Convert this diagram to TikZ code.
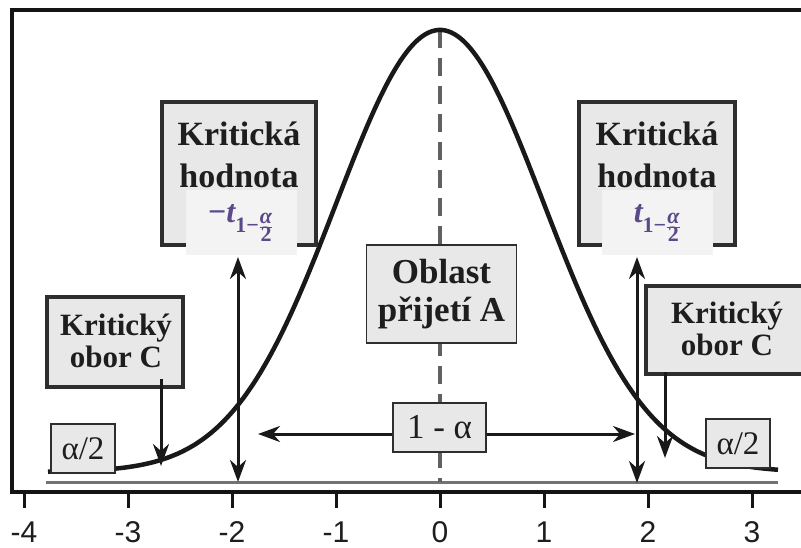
\documentclass[tikz,border=0pt]{standalone}
\usepackage{fontspec}
\setmainfont{Liberation Serif}
\setsansfont{Liberation Sans}
\usetikzlibrary{arrows.meta}
\definecolor{boxfill}{HTML}{E8E8E8}
\definecolor{labfill}{HTML}{F3F3F3}
\definecolor{mathpurple}{HTML}{5B4A8A}
\definecolor{framegray}{HTML}{2E2E2E}
\definecolor{textdark}{HTML}{1E1E1E}
\newcommand{\subfs}{\fontsize{22}{22}\selectfont\bfseries}
\newcommand{\critlab}[1]{$\hbox{\fontsize{32}{32}\selectfont\bfseries #1\itshape t}_{\hbox{\subfs 1−}{\hbox{\subfs\itshape α}\over\hbox{\subfs 2}}}$}
\begin{document}
\begin{tikzpicture}[x=1pt,y=-1pt,
  axisline/.style={line width=3.5pt, black!92, line join=miter},
  tickmark/.style={line width=3pt, black!92},
  ticklabel/.style={font=\sffamily\fontsize{30}{30}\selectfont, anchor=base, inner sep=0pt, text=textdark},
  density/.style={line width=4.5pt, black!90, line join=round},
  zeroline/.style={line width=3pt, black!55},
  midline/.style={line width=3.5pt, black!62, dash pattern=on 18pt off 10pt},
  bigbox/.style={draw=framegray, line width=4pt, fill=boxfill, inner sep=0pt},
  bigtext/.style={font=\fontsize{34}{42}\selectfont\bfseries, align=center, text=textdark, inner sep=0pt},
  midtext/.style={font=\fontsize{31}{32}\selectfont\bfseries, align=center, text=textdark, inner sep=0pt},
  labbox/.style={fill=labfill, inner sep=0pt, minimum width=111pt, minimum height=65pt, text=mathpurple, font=\fontsize{28}{28}\selectfont},
  thinbox/.style={draw=framegray, line width=1.5pt, fill=boxfill, inner sep=0pt, text=textdark},
  smalltext/.style={font=\fontsize{33}{33}\selectfont},
  arr/.style={line width=3pt, black!90, -{Stealth[length=22pt,width=16pt,inset=7pt]}},
  darr/.style={line width=3pt, black!90, {Stealth[length=22pt,width=16pt,inset=7pt]}-{Stealth[length=22pt,width=16pt,inset=7pt]}}
]
\useasboundingbox (0,0) rectangle (801,548);
\fill[white] (0,0) rectangle (801,548);

% frame and axis
\draw[axisline] (801,10) -- (12,10) -- (12,492) -- (801,492);
\foreach \v in {-4,...,3}{
  \draw[tickmark] ({440+104*\v},492) -- ({440+104*\v},508);
  \node[ticklabel] (tick\v) at ({440+104*\v},542) {\v};
}

% zero level line and centre line
\draw[zeroline] (46,482) -- (778,482);
\draw[midline] (440,30) -- (440,482);

% density curve
\draw[density] plot[domain=48:778, samples=220, smooth] (\x, {472-442*exp(-0.5*((\x-440)/104)^2)});

% critical value boxes
\node[bigbox, minimum width=154pt, minimum height=143pt] (kvl) at (239,173.5) {};
\node[bigtext] (kvlt) at (239,155) {Kritická\\hodnota};
\node[labbox] (tl) at (241,223) {\critlab{−}};

\node[bigbox, minimum width=156pt, minimum height=143pt] (kvr) at (657,173.5) {};
\node[bigtext] (kvrt) at (657,155) {Kritická\\hodnota};
\node[labbox] (tr) at (657.5,223) {\critlab{}};

% critical region boxes
\node[bigbox, minimum width=136pt, minimum height=90pt] (ocl) at (115,342) {};
\node[midtext] (oclt) at (116,341) {Kritický\\obor C};
\node[bigbox, minimum width=170pt, minimum height=88pt] (ocr) at (731,330) {};
\node[midtext] (ocrt) at (727,329) {Kritický\\obor C};

% acceptance region
\node[thinbox, minimum width=150pt, minimum height=98pt, font=\fontsize{35}{38}\selectfont\bfseries, align=center] (acc) at (441.5,294) {Oblast\\přijetí A};

% alpha boxes
\node[thinbox, smalltext, minimum width=64pt, minimum height=49pt] (al) at (83,448.5) {α/2};
\node[thinbox, smalltext, minimum width=64pt, minimum height=49pt] (ar) at (738,443.5) {α/2};
\node[thinbox, font=\fontsize{35}{35}\selectfont, minimum width=93pt, minimum height=49pt] (oma) at (439.5,427.5) {1 - α};

% arrows
\coordinate (tlb) at (238,257);
\coordinate (tlz) at (238,482);
\coordinate (trb) at (637,257);
\coordinate (trz) at (637,483);
\coordinate (hl) at (258,434);
\coordinate (hr) at (635,434);
\coordinate (ocls) at (161,379);
\coordinate (ocle) at (161,466);
\coordinate (ocrs) at (665,372);
\coordinate (ocre) at (665,458);

\draw[darr] (tlb) -- (tlz);
\draw[darr] (trb) -- (trz);
\draw[arr] (oma.west |- hl) -- (hl);
\draw[arr] (oma.east |- hr) -- (hr);
\draw[arr] (ocls) -- (ocle);
\draw[arr] (ocrs) -- (ocre);
\end{tikzpicture}
\end{document}
